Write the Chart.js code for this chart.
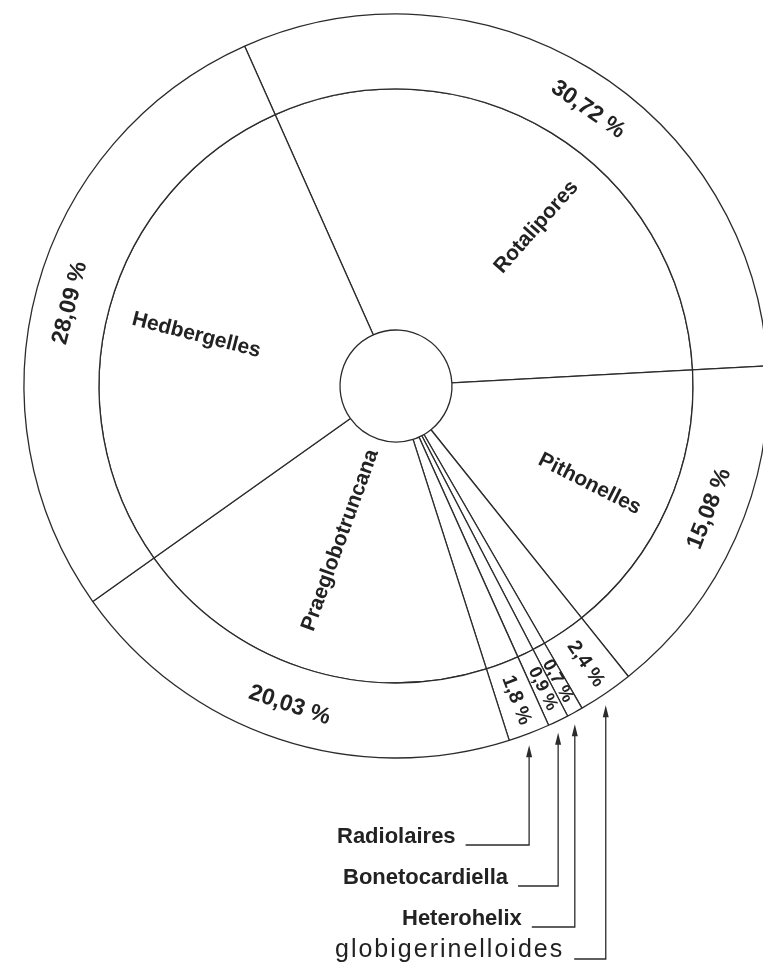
<!DOCTYPE html>
<html><head><meta charset="utf-8">
<script src="https://cdn.jsdelivr.net/npm/chart.js@4/dist/chart.umd.min.js"></script>
<style>html,body{margin:0;padding:0;overflow:hidden;background:#fff;width:763px;height:971px}canvas{display:block}</style>
</head><body>
<canvas id="c" width="792" height="971"></canvas>
<script>
// ---- data ----
const categories = ['Rotalipores','Pithonelles','globigerinelloides','Heterohelix','Bonetocardiella','Radiolaires','Praeglobotruncana','Hedbergelles'];
const percentages = [30.72, 15.08, 2.4, 0.7, 0.9, 1.8, 20.03, 28.09];
const calloutCategories = ['Radiolaires','Bonetocardiella','Heterohelix','globigerinelloides'];

// ---- styles (not data) ----
const LINE = '#2b2b2b', TEXT = '#222222';
const FONT = '"Liberation Sans", Arial, sans-serif';
const nameStyle = {
  Rotalipores: {mode:'out', r:212, t:0.59},
  Pithonelles: {mode:'out', r:217, t:0.55},
  Praeglobotruncana: {mode:'in', r:164, t:0.52},
  Hedbergelles: {mode:'in', r:206, t:0.49}
};
const pctStyle = [
  {mode:'tan', t:0.53, size:23}, {mode:'flip', t:0.45, size:23}, {mode:'out', t:0.5, size:20}, {mode:'out', t:0.5, size:18},
  {mode:'out', t:0.5, size:18}, {mode:'out', t:0.5, size:20}, {mode:'flip', t:0.5, size:23}, {mode:'tan', t:0.49, size:23}
];
const calloutStyle = {
  Radiolaires: {x:337, base:843, bold:true},
  Bonetocardiella: {x:343, base:884, bold:true},
  Heterohelix: {x:402, base:925, bold:true},
  globigerinelloides: {x:335, base:957, bold:false}
};

function fmtPct(v){ return String(v).replace('.', ',') + ' %'; }

function drawRotated(ctx, text, x, y, ang, font){
  ctx.save();
  ctx.translate(x, y);
  ctx.rotate(ang);
  ctx.font = font;
  ctx.textAlign = 'center';
  ctx.textBaseline = 'middle';
  ctx.fillText(text, 0, 0);
  ctx.restore();
}
function modeAngle(mode, a){
  if (mode === 'tan') return a + Math.PI/2;
  if (mode === 'flip') return a - Math.PI/2;
  if (mode === 'in') return a + Math.PI;
  return a;
}

const labelPlugin = {
  id: 'pieLabels',
  afterDatasetsDraw(chart){
    const ctx = chart.ctx;
    const outer = chart.getDatasetMeta(0).data;
    const inner = chart.getDatasetMeta(1).data;
    ctx.save();
    ctx.fillStyle = TEXT;
    // percentage labels in outer ring
    outer.forEach((arc, i) => {
      const p = arc.getProps(['x','y','startAngle','endAngle','innerRadius','outerRadius'], true);
      const st = pctStyle[i];
      const a = p.startAngle + (p.endAngle - p.startAngle) * st.t;
      const r = (p.innerRadius + p.outerRadius) / 2 + 2;
      drawRotated(ctx, fmtPct(percentages[i]), p.x + r*Math.cos(a), p.y + r*Math.sin(a), modeAngle(st.mode, a), 'bold ' + st.size + 'px ' + FONT);
    });
    // names in inner ring
    inner.forEach((arc, i) => {
      const st = nameStyle[categories[i]];
      if (!st) return;
      const p = arc.getProps(['x','y','startAngle','endAngle'], true);
      const a = p.startAngle + (p.endAngle - p.startAngle) * st.t;
      drawRotated(ctx, categories[i], p.x + st.r*Math.cos(a), p.y + st.r*Math.sin(a), modeAngle(st.mode, a), 'bold 21px ' + FONT);
    });
    // callouts
    ctx.strokeStyle = LINE;
    ctx.lineWidth = 1.3;
    calloutCategories.forEach(name => {
      const i = categories.indexOf(name);
      const p = outer[i].getProps(['x','y','startAngle','endAngle','outerRadius'], true);
      const mid = (p.startAngle + p.endAngle) / 2;
      const ax = p.x + p.outerRadius * Math.cos(mid);
      const dx = ax - p.x;
      const tipY = p.y + Math.sqrt(p.outerRadius*p.outerRadius - dx*dx) + 12;
      const cs = calloutStyle[name];
      ctx.font = (cs.bold ? 'bold 22px ' : '25px ') + FONT;
      ctx.letterSpacing = cs.bold ? '0px' : '2px';
      ctx.textAlign = 'left';
      ctx.textBaseline = 'alphabetic';
      ctx.fillText(name, cs.x, cs.base);
      const w = ctx.measureText(name).width;
      ctx.letterSpacing = '0px';
      const ly = cs.base + 2;
      ctx.beginPath();
      ctx.moveTo(cs.x + w + 10, ly);
      ctx.lineTo(ax, ly);
      ctx.lineTo(ax, tipY + 10);
      ctx.stroke();
      ctx.beginPath();
      ctx.moveTo(ax, tipY);
      ctx.lineTo(ax - 3, tipY + 12);
      ctx.lineTo(ax + 3, tipY + 12);
      ctx.closePath();
      ctx.fillStyle = LINE;
      ctx.fill();
      ctx.fillStyle = TEXT;
    });
    ctx.restore();
  }
};

new Chart(document.getElementById('c'), {
  type: 'doughnut',
  data: {
    labels: categories,
    datasets: [
      {data: percentages, weight: 75, backgroundColor: '#ffffff', borderColor: LINE, borderWidth: 1.3},
      {data: percentages, weight: 241, backgroundColor: '#ffffff', borderColor: LINE, borderWidth: 1.3}
    ]
  },
  options: {
    responsive: false,
    animation: false,
    events: [],
    radius: 372,
    cutout: '15.05%',
    rotation: -24,
    layout: {padding: {left: 0, right: 0, top: 0, bottom: 199}},
    plugins: {legend: {display: false}, tooltip: {enabled: false}}
  },
  plugins: [labelPlugin]
});
</script>
</body></html>
